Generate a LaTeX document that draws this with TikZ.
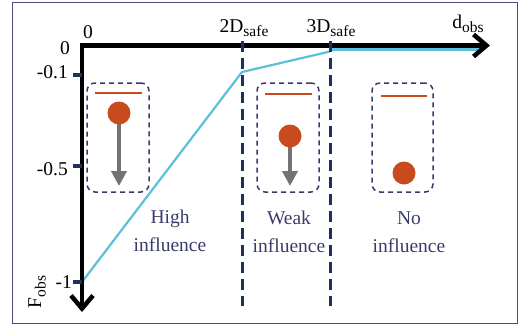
\documentclass[tikz,border=0pt]{standalone}
\usepackage{fontspec}
\setmainfont{Liberation Serif}
\usetikzlibrary{arrows.meta}
\definecolor{cyanline}{HTML}{5BC0D8}
\definecolor{ball}{HTML}{C84B1E}
\definecolor{navy}{HTML}{1F2F5F}
\definecolor{boxc}{HTML}{3A3A6A}
\definecolor{txtc}{HTML}{3B3B6B}
\definecolor{framec}{HTML}{4B4B7D}
\definecolor{grayarr}{HTML}{737373}
\newcommand\subtxt[1]{\raisebox{-4.5pt}{\fontsize{15.5}{18}\selectfont #1}}
\begin{document}
\begin{tikzpicture}[x=1pt,y=-1pt,
  lab/.style={font=\fontsize{19.5}{28}\selectfont, inner sep=0pt},
  zone/.style={lab, text=txtc, align=center},
  axisline/.style={line width=4.5pt, line cap=butt, -{Straight Barb[length=13pt,width=22pt]}},
  guide/.style={draw=navy, line width=3pt, dash pattern=on 11pt off 6pt},
  tickmark/.style={draw=navy, line width=3.5pt},
  panel/.style={draw=boxc, line width=1.5pt, dash pattern=on 5pt off 4pt, rounded corners=8pt, minimum width=62pt, minimum height=109pt, inner sep=0pt},
  bar/.style={draw=ball, line width=2pt},
  ball/.style={circle, fill=ball, minimum size=23pt, inner sep=0pt},
  weight/.style={draw=grayarr, line width=4pt, -{Triangle[length=15pt,width=15pt]}},
  curve/.style={draw=cyanline, line width=2.2pt, line join=round}
]
\useasboundingbox (0,0) rectangle (520,327);
% frame
\node[draw=framec, line width=1.5pt, minimum width=505pt, minimum height=321pt, inner sep=0pt] (frame) at (265,163) {};

% key points
\coordinate (O) at (82,45.5);
\coordinate (xend) at (490,45.5);
\coordinate (yend) at (82,312);
\coordinate (c0) at (82,282);
\coordinate (c1) at (242,72);
\coordinate (c2) at (330,51.5);
\coordinate (c3) at (330,49.5);
\coordinate (c4) at (484,49.5);

% cyan curve
\draw[curve] (c0) -- (c1) -- (c2);
\draw[draw=cyanline, line width=3.5pt] (c3) -- (c4);

% axes
\draw[axisline] (80,45.5) -- (xend);
\draw[axisline] (O) -- (yend);

% guides
\coordinate (g2t) at (242,41);
\coordinate (g2b) at (242,306);
\coordinate (g3t) at (330,41);
\coordinate (g3b) at (330,306);
\draw[guide] (g2t) -- (g2b);
\draw[guide] (g3t) -- (g3b);

% ticks
\coordinate (t1a) at (73,75);   \coordinate (t1b) at (82,75);
\coordinate (t5a) at (73,166);  \coordinate (t5b) at (82,166);
\coordinate (tma) at (73,282);  \coordinate (tmb) at (82,282);
\draw[tickmark] (t1a) -- (t1b);
\draw[tickmark] (t5a) -- (t5b);
\draw[tickmark] (tma) -- (tmb);

% axis labels
\node[lab, anchor=base] (zx) at (88,38) {0};
\node[lab, anchor=base east] (zy) at (70,54) {0};
\node[lab, anchor=base east] (l01) at (68,78) {-0.1};
\node[lab, anchor=base east] (l05) at (68,175) {-0.5};
\node[lab, anchor=base east] (l1) at (72,288) {-1};
\node[lab, rotate=90] (fobs) at (37,292) {F\subtxt{obs}};
\node[lab, anchor=base] (d2) at (244,32) {2D\subtxt{safe}};
\node[lab, anchor=base] (d3) at (331,32) {3D\subtxt{safe}};
\node[lab, anchor=base] (dobs) at (468,28) {d\subtxt{obs}};

% panels
\node[panel] (p1) at (118,137.5) {};
\node[panel] (p2) at (288,137.5) {};
\node[panel, minimum width=61pt] (p3) at (402.5,137.5) {};

\coordinate (r1a) at (95,93);  \coordinate (r1b) at (142,93);
\coordinate (r2a) at (265,94); \coordinate (r2b) at (312,94);
\coordinate (r3a) at (381,96); \coordinate (r3b) at (427,96);
\draw[bar] (r1a) -- (r1b);
\draw[bar] (r2a) -- (r2b);
\draw[bar] (r3a) -- (r3b);

\coordinate (w1) at (119,186);
\coordinate (w2) at (290,186);
\draw[weight] (119,113) -- (w1);
\draw[weight] (290,136) -- (w2);
\node[ball] (b1) at (119,113) {};
\node[ball] (b2) at (290,136) {};
\node[ball] (b3) at (404,173) {};

% zone labels
\node[zone, anchor=north] (hi) at (170,210) {High\\influence};
\node[zone, anchor=north] (wk) at (289,211) {Weak\\influence};
\node[zone, anchor=north] (no) at (409,212) {No\\influence};
\end{tikzpicture}
\end{document}
